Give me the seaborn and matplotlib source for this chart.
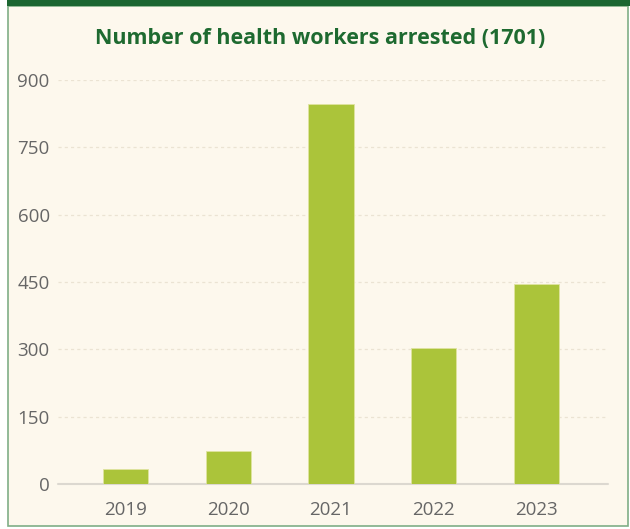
import matplotlib
matplotlib.use("Agg")
import matplotlib.pyplot as plt
import seaborn as sns
import pandas as pd
from matplotlib.patches import Rectangle

sns.set_theme(style="white")
plt.rcParams['font.family'] = ['Open Sans', 'DejaVu Sans']

# Data
years = ["2019", "2020", "2021", "2022", "2023"]
arrests = [33, 73, 847, 303, 445]
title = "Number of health workers arrested (1701)"
yticks = [0, 150, 300, 450, 600, 750, 900]

df = pd.DataFrame({"year": years, "arrests": arrests})

bg = "#fdf8ed"
fig = plt.figure(figsize=(6.3, 5.29), dpi=100, facecolor="white")

# panel background + frame
fig.patches.append(Rectangle((8 / 630, 3 / 529), 620 / 630, 520 / 529, transform=fig.transFigure,
                             facecolor=bg, edgecolor="#7fae86", linewidth=1.2, zorder=-2))
fig.patches.append(Rectangle((7 / 630, 523 / 529), 623 / 630, 6 / 529, transform=fig.transFigure,
                             facecolor="#1b6631", edgecolor="none", zorder=-1))

ax = fig.add_axes([58 / 630, 45 / 529, 550 / 630, 404 / 529])
ax.set_zorder(2)
ax.set_facecolor("none")

sns.barplot(data=df, x="year", y="arrests", color="#abc43a", width=0.44,
            saturation=1, edgecolor="#dfe3a0", linewidth=0.6, ax=ax, zorder=3)

ax.set_ylim(0, 900)
ax.set_xlim(-0.66, 4.70)
ax.set_yticks(yticks)
ax.set_yticklabels([str(t) for t in yticks])
for t in yticks[1:]:
    ax.axhline(t, color="#ebe3d3", linestyle=(0, (2.5, 2.5)), linewidth=0.9, zorder=1)
ax.axhline(0, color="#dcd8d0", linewidth=1.5, zorder=2, clip_on=False)

for s in ax.spines.values():
    s.set_visible(False)
ax.tick_params(axis="both", length=0, labelsize=13.5, labelcolor="#666666")
ax.tick_params(axis="y", pad=6)
ax.tick_params(axis="x", pad=12)
ax.set_xlabel("")
ax.set_ylabel("")

fig.text(0.508, 1 - 39 / 529, title, ha="center", va="center", fontsize=15.5,
         fontweight="bold", color="#1e6a30")

fig.savefig("out.png", dpi=100, facecolor="white")
